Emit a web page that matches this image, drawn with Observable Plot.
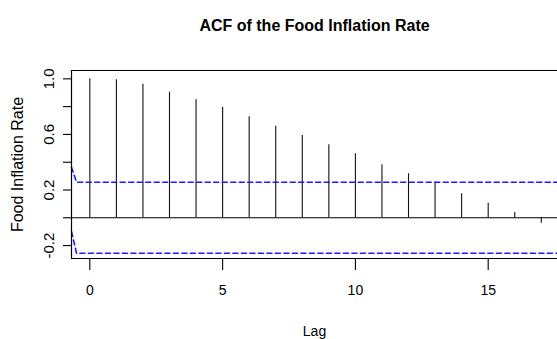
<!DOCTYPE html>
<html>
<head>
<meta charset="utf-8">
<script src="https://cdn.jsdelivr.net/npm/d3@7"></script>
<script src="https://cdn.jsdelivr.net/npm/@observablehq/plot@0.6"></script>
<style>
  html, body { margin: 0; padding: 0; background: #fff; }
  #chart { width: 557px; height: 339px; }
</style>
</head>
<body>
<div id="chart"></div>
<script>
const title = "ACF of the Food Inflation Rate";
const xLabel = "Lag";
const yLabel = "Food Inflation Rate";

const lags = [0, 1, 2, 3, 4, 5, 6, 7, 8, 9, 10, 11, 12, 13, 14, 15, 16, 17];
const acfValues = [1.0, 0.993, 0.961, 0.904, 0.849, 0.794, 0.727, 0.659, 0.592,
                   0.525, 0.460, 0.381, 0.317, 0.256, 0.173, 0.105, 0.038, -0.039];

const xDomain = [-0.69, 17.61];
const yDomain = [-0.293, 1.06];

const xTicks = [0, 5, 10, 15];
const yTicks = [-0.2, 0, 0.2, 0.4, 0.6, 0.8, 1.0];
const yTickLabels = [
  {v: 1.0, t: "1.0"}, {v: 0.6, t: "0.6"}, {v: 0.2, t: "0.2"}, {v: -0.2, t: "-0.2"}
];

// confidence bound lines (as drawn, including the slanted start at the left edge)
const upperLagX = [-0.69, -0.5, 17.61];
const upperVal  = [0.364, 0.256, 0.256];
const lowerLagX = [-0.69, -0.5, 17.61];
const lowerVal  = [-0.10, -0.255, -0.255];

const acfData = lags.map((l, i) => ({lag: l, acf: acfValues[i]}));
const upper = upperLagX.map((x, i) => ({x, y: upperVal[i]}));
const lower = lowerLagX.map((x, i) => ({x, y: lowerVal[i]}));

const font = "'Liberation Sans', Arial, sans-serif";

const chart = Plot.plot({
  width: 557,
  height: 339,
  marginLeft: 71,
  marginRight: 0,
  marginTop: 70,
  marginBottom: 81,
  style: {fontFamily: font, fontSize: "14px", color: "#000", background: "#fff"},
  x: {domain: xDomain},
  y: {domain: yDomain},
  marks: [
    // zero line
    Plot.ruleY([0], {stroke: "#000", strokeWidth: 1.1}),
    // spikes
    Plot.ruleX(acfData, {x: "lag", y1: 0, y2: "acf", stroke: "#111", strokeWidth: 1.1}),
    // confidence bounds
    Plot.line(upper, {x: "x", y: "y", stroke: "#1a1aff", strokeWidth: 1.6, strokeDasharray: "5,3.5"}),
    Plot.line(lower, {x: "x", y: "y", stroke: "#1a1aff", strokeWidth: 1.6, strokeDasharray: "5,3.5"}),
    // box lines (left, top, bottom)
    Plot.ruleX([xDomain[0]], {stroke: "#000", strokeWidth: 1.2}),
    Plot.ruleY([yDomain[1], yDomain[0]], {stroke: "#000", strokeWidth: 1.2}),
    // axes
    Plot.axisX({ticks: xTicks, tickSize: 12, tickPadding: 15, tickFormat: d => String(d), label: null, fontSize: 14, strokeWidth: 1.1}),
    Plot.axisY({ticks: yTicks, tickSize: 8, tickFormat: () => "", label: null, strokeWidth: 1.1}),
    Plot.text(yTickLabels, {y: "v", text: "t", frameAnchor: "left", dx: -22, rotate: -90, fontSize: 15, textAnchor: "middle", lineAnchor: "middle"}),
    // titles
    Plot.text([title], {frameAnchor: "top", dy: -45, fontSize: 16, fontWeight: "bold", lineAnchor: "middle"}),
    Plot.text([xLabel], {frameAnchor: "bottom", dy: 73, fontSize: 14, lineAnchor: "middle"}),
    Plot.text([yLabel], {frameAnchor: "left", dx: -53.5, rotate: -90, fontSize: 16, textAnchor: "middle", lineAnchor: "middle"})
  ]
});
document.getElementById("chart").appendChild(chart);
</script>
</body>
</html>
